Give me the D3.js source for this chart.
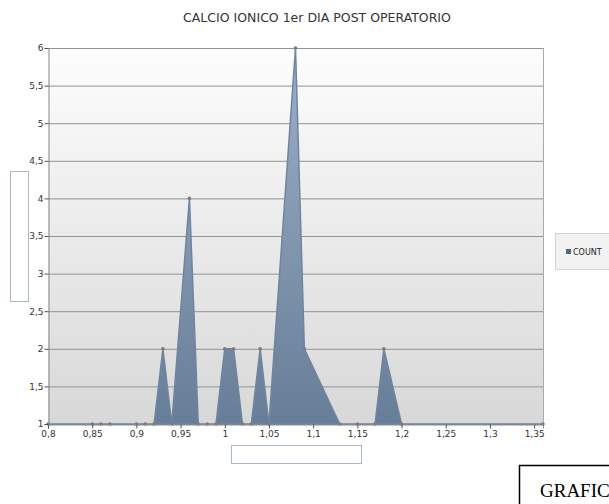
<!DOCTYPE html>
<html><head><meta charset="utf-8">
<script src="https://cdn.jsdelivr.net/npm/d3@7"></script>
<style>
body{margin:0;background:#fff;}
svg{display:block;}
</style></head>
<body>
<svg id="c" width="609" height="504"></svg>
<script>
const title = "CALCIO IONICO 1er DIA POST OPERATORIO";
const xValues = [0.80,0.85,0.86,0.87,0.90,0.91,0.92,0.93,0.94,0.96,0.97,0.98,0.99,1.00,1.01,1.02,1.03,1.04,1.05,1.08,1.09,1.13,1.15,1.17,1.18,1.20,1.36];
const counts  = [1,1,1,1,1,1,1,2,1,4,1,1,1,2,2,1,1,2,1,6,2,1,1,1,2,1,1];
const xTicks = [0.8,0.85,0.9,0.95,1,1.05,1.1,1.15,1.2,1.25,1.3,1.35];
const yTicks = [1,1.5,2,2.5,3,3.5,4,4.5,5,5.5,6];
const seriesName = "COUNT";

const svg = d3.select("#c");
const L=48,R=543,T=48,B=424;
const x = d3.scaleLinear().domain([0.8,1.36]).range([L,R]);
const y = d3.scaleLinear().domain([1,6]).range([B,T]);
const fmt = d => String(d).replace(".",",");
const font = "'DejaVu Sans', Verdana, sans-serif";

const defs = svg.append("defs");
const bg = defs.append("linearGradient").attr("id","bg").attr("x1",0).attr("y1",0).attr("x2",0).attr("y2",1);
bg.append("stop").attr("offset","0%").attr("stop-color","#fdfdfd");
bg.append("stop").attr("offset","100%").attr("stop-color","#d8d8d8");
const ag = defs.append("linearGradient").attr("id","ag").attr("gradientUnits","userSpaceOnUse")
  .attr("x1",0).attr("y1",T).attr("x2",0).attr("y2",B);
ag.append("stop").attr("offset","0%").attr("stop-color","#9cb0c8");
ag.append("stop").attr("offset","100%").attr("stop-color","#687d97");

// title
svg.append("text").attr("x",317).attr("y",22).attr("text-anchor","middle")
  .attr("font-family",font).attr("font-size",12.5).attr("fill","#333").text(title);

// plot background
svg.append("rect").attr("x",L).attr("y",T).attr("width",R-L).attr("height",B-T).attr("fill","url(#bg)");

// gridlines
svg.append("g").selectAll("line").data(yTicks).join("line")
  .attr("x1",L).attr("x2",R).attr("y1",d=>y(d)+0.5).attr("y2",d=>y(d)+0.5)
  .attr("stroke","#939393").attr("stroke-width",1);

// area
const data = xValues.map((v,i)=>({x:v,c:counts[i]}));
svg.append("path").datum(data)
  .attr("d", d3.area().x(d=>x(d.x)).y0(B).y1(d=>y(d.c)))
  .attr("fill","url(#ag)").attr("stroke","#6f849e").attr("stroke-width",1.5);

// border right
svg.append("line").attr("x1",R+0.5).attr("x2",R+0.5).attr("y1",T).attr("y2",B).attr("stroke","#aaa");

// markers
svg.append("g").selectAll("circle").data(data).join("circle")
  .attr("cx",d=>x(d.x)).attr("cy",d=>y(d.c)).attr("r",1.8).attr("fill","#7b7b7b");

// axes
const yAxis = d3.axisLeft(y).tickValues(yTicks).tickFormat(fmt).tickSize(4).tickPadding(1);
const gy = svg.append("g").attr("transform",`translate(${L+0.5},0)`).call(yAxis);
const xAxis = d3.axisBottom(x).tickValues(xTicks).tickFormat(fmt).tickSize(4).tickPadding(2);
const gx = svg.append("g").attr("transform",`translate(0,${B+0.5})`).call(xAxis);
[gx,gy].forEach(g=>{
  g.selectAll("path.domain").attr("stroke","#8a8a8a");
  g.selectAll(".tick line").attr("stroke","#555");
  g.selectAll("text").attr("font-family",font).attr("font-size",9).attr("fill","#333");
});

// y-axis title box
svg.append("rect").attr("x",10.5).attr("y",171.5).attr("width",18).attr("height",130)
  .attr("fill","#fff").attr("stroke","#a9b8c8");
// x-axis title box
svg.append("rect").attr("x",231.5).attr("y",445.5).attr("width",130).attr("height",18)
  .attr("fill","#fff").attr("stroke","#a9b8c8");

// legend
svg.append("rect").attr("x",555.5).attr("y",233.5).attr("width",60).attr("height",36)
  .attr("fill","#f2f2f2").attr("stroke","#d4d4d4");
svg.append("rect").attr("x",566).attr("y",249).attr("width",5).attr("height",5).attr("fill","#50698a");
svg.append("text").attr("x",573).attr("y",254.5).attr("font-family",font).attr("font-size",8)
  .attr("fill","#222").text(seriesName);

// bottom-right caption box (cut by the page edge, as in the reference)
svg.append("rect").attr("x",519.5).attr("y",465.5).attr("width",100).attr("height",50)
  .attr("fill","#fff").attr("stroke","#000").attr("stroke-width",1.5);
svg.append("text").attr("x",540).attr("y",497).attr("font-family","'Liberation Serif', 'Times New Roman', serif")
  .attr("font-size",19).attr("fill","#000").text("GRAFICO");
</script>
</body></html>
